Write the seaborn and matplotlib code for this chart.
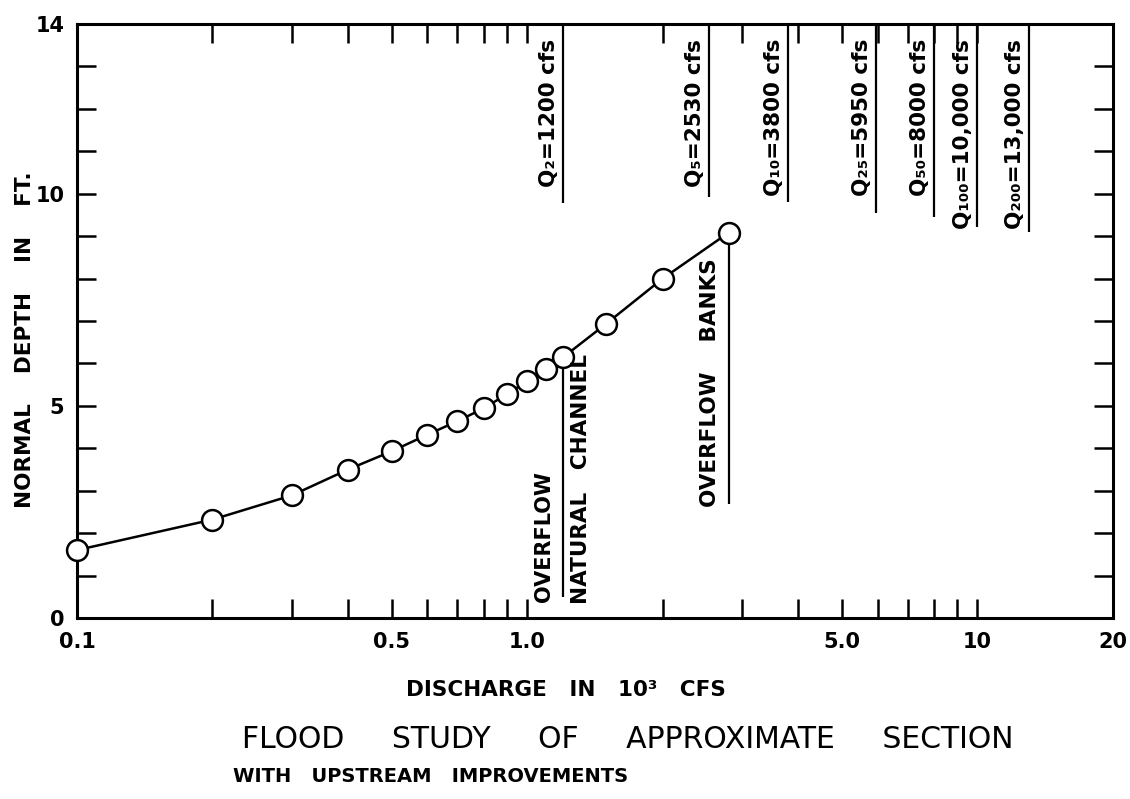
import matplotlib
matplotlib.use("Agg")
import matplotlib.pyplot as plt
import seaborn as sns
import pandas as pd
from matplotlib.ticker import FixedLocator, FixedFormatter, NullFormatter

# ---------------- data ----------------
discharge = [0.1, 0.2, 0.3, 0.4, 0.5, 0.6, 0.7, 0.8, 0.9, 1.0, 1.1, 1.2, 1.5, 2.0, 2.8]
depth = [1.6, 2.32, 2.89, 3.5, 3.93, 4.32, 4.64, 4.94, 5.27, 5.58, 5.88, 6.14, 6.94, 8.0, 9.08]

q_labels = ["Q₂=1200 cfs", "Q₅=2530 cfs", "Q₁₀=3800 cfs", "Q₂₅=5950 cfs",
            "Q₅₀=8000 cfs", "Q₁₀₀=10,000 cfs", "Q₂₀₀=13,000 cfs"]
q_values = [1.2, 2.53, 3.8, 5.95, 8.0, 10.0, 13.0]
q_line_bottoms = [9.79, 9.93, 9.81, 9.55, 9.44, 9.22, 9.1]

channel_x = 1.2
channel_line = [0.5, 6.14]
banks_x = 2.8
banks_line = [2.68, 9.08]

x_major = [0.1, 0.5, 1.0, 5.0, 10, 20]
x_major_labels = ["0.1", "0.5", "1.0", "5.0", "10", "20"]
x_minor = [0.2, 0.3, 0.4, 0.6, 0.7, 0.8, 0.9, 2, 3, 4, 6, 7, 8, 9]
y_major = [0, 5, 10, 14]
y_major_labels = ["0", "5", "10", "14"]
y_minor = [1, 2, 3, 4, 6, 7, 8, 9, 11, 12, 13]

df = pd.DataFrame({"discharge": discharge, "depth": depth})

# ---------------- style ----------------
sns.set_theme(style="ticks")
plt.rcParams["font.family"] = ["DejaVu Sans"]
plt.rcParams["text.color"] = "black"
plt.rcParams["xtick.labelcolor"] = "black"
plt.rcParams["ytick.labelcolor"] = "black"
plt.rcParams["axes.linewidth"] = 2.2

fig = plt.figure(figsize=(11.3, 7.99), dpi=100)
ax = fig.add_axes([0.0681, 0.2265, 0.9168, 0.7435])

sns.lineplot(data=df, x="discharge", y="depth", ax=ax, color="black", lw=1.8,
             marker="o", markersize=15, markerfacecolor="white",
             markeredgecolor="black", markeredgewidth=1.8, clip_on=False,
             zorder=3)

ax.set_xscale("log")
ax.set_xlim(0.1, 20)
ax.set_ylim(0, 14)

ax.xaxis.set_major_locator(FixedLocator(x_major))
ax.xaxis.set_major_formatter(FixedFormatter(x_major_labels))
ax.xaxis.set_minor_locator(FixedLocator(x_minor))
ax.xaxis.set_minor_formatter(NullFormatter())
ax.yaxis.set_major_locator(FixedLocator(y_major))
ax.yaxis.set_major_formatter(FixedFormatter(y_major_labels))
ax.yaxis.set_minor_locator(FixedLocator(y_minor))

ax.tick_params(which="both", direction="in", length=14, width=1.8,
               top=True, right=True, color="black")
ax.tick_params(axis="x", which="major", pad=10, labelsize=15)
ax.tick_params(axis="y", which="major", pad=9, labelsize=15)
for lab in ax.get_xticklabels() + ax.get_yticklabels():
    lab.set_fontweight("bold")

for s in ax.spines.values():
    s.set_color("black")
    s.set_linewidth(2.2)

ax.set_xlabel("")
ax.set_ylabel("")

# Return-period discharge lines and labels
ax.vlines(q_values, q_line_bottoms, 14, color="black", lw=1.6)
for q, lab in zip(q_values, q_labels):
    ax.annotate(lab, xy=(q, 13.65), xytext=(-3, 0), textcoords="offset points",
                rotation=90, ha="right", va="top", fontsize=15.5,
                fontweight="bold")

# Overflow annotations
ax.vlines([channel_x], channel_line[0], channel_line[1], color="black", lw=1.6)
ax.annotate("OVERFLOW", xy=(channel_x, 0.38), xytext=(-6, 0),
            textcoords="offset points", rotation=90, ha="right", va="bottom",
            fontsize=15, fontweight="bold")
ax.annotate("NATURAL   CHANNEL", xy=(channel_x, 0.33), xytext=(6, 0),
            textcoords="offset points", rotation=90, ha="left", va="bottom",
            fontsize=15.5, fontweight="bold")
ax.vlines([banks_x], banks_line[0], banks_line[1], color="black", lw=1.6)
ax.annotate("OVERFLOW    BANKS", xy=(banks_x, 2.61), xytext=(-6, 0),
            textcoords="offset points", rotation=90, ha="right", va="bottom",
            fontsize=15.5, fontweight="bold")

# Axis titles and figure titles
fig.text(25 / 1130, 1 - 340 / 799, "NORMAL    DEPTH    IN    FT.", rotation=90,
         ha="center", va="center", fontsize=15.5, fontweight="bold")
fig.text(566 / 1130, 1 - 690 / 799, "DISCHARGE   IN   10³   CFS",
         ha="center", va="center", fontsize=15.5, fontweight="bold")
fig.text(628 / 1130, 1 - 740 / 799, "FLOOD     STUDY     OF     APPROXIMATE     SECTION",
         ha="center", va="center", fontsize=21.5)
fig.text(431 / 1130, 1 - 777 / 799, "WITH   UPSTREAM   IMPROVEMENTS",
         ha="center", va="center", fontsize=14, fontweight="bold")

fig.savefig("out.png", dpi=100, facecolor="white")
